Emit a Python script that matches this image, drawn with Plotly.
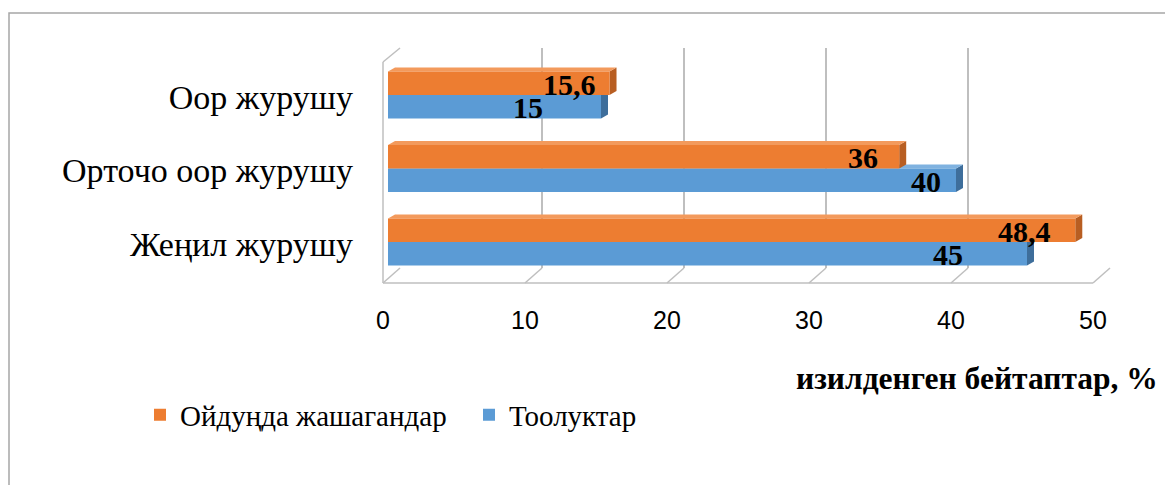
import plotly.graph_objects as go

# ---------------- data ----------------
categories = ["Жеңил журушу", "Орточо оор журушу", "Оор журушу"]  # bottom -> top
lowland = [48.4, 36, 15.6]      # Ойдуңда жашагандар
highland = [45, 40, 15]         # Тоолуктар
lowland_text = ["48,4", "36", "15,6"]
highland_text = ["45", "40", "15"]
x_ticks = [0, 10, 20, 30, 40, 50]
series_names = ["Ойдуңда жашагандар", "Тоолуктар"]
axis_title = "изилденген бейтаптар, %"

# ---------------- style / layout ----------------
OX, OY = 8, 8                      # page body margin
FW, FH = 1165, 477                 # figure size so that it ends at the window edge
ORANGE, ORANGE_SIDE, ORANGE_TOP = "#ED7D31", "#B85E22", "#F39A5C"
BLUE, BLUE_SIDE, BLUE_TOP = "#5B9BD5", "#3E6E9B", "#7FB2E0"
GRID = "#bfbfbf"
SERIF = "Liberation Serif, Times New Roman, serif"
SANS = "Liberation Sans, Arial, sans-serif"
# nudges of the value labels (px), as placed in the original
lowland_label_shift = [-22, -19, -12]
highland_label_shift = [-62, -13, -56]


def px_x(p):
    return (p - OX) / FW


def px_y(p):
    return 1 - (p - OY) / FH


XMAX = 50
BAR_L, BAR_R = 388, 1098           # bar axis pixel extent (window pixels)
FRONT_L, BACK_L = 383, 400         # floor front / back wall left edges
FLOOR_FRONT, FLOOR_BACK = 283, 268
WALL_TOP_FRONT, WALL_TOP_BACK = 62, 48
PLOT_TOP, PLOT_BOT = 58.25, 278.75
scale = (BAR_R - BAR_L) / XMAX
yidx = list(range(len(categories)))

fig = go.Figure()

# back wall gridlines live on subplot x/y (drawn first, under the bars)
fig.add_trace(go.Scatter(x=[], y=[], xaxis="x", yaxis="y", showlegend=False, hoverinfo="skip"))

fig.add_trace(go.Bar(
    y=yidx, x=highland, orientation="h", name=series_names[1],
    marker=dict(color=BLUE, line=dict(width=0)), xaxis="x2", yaxis="y2",
    hoverinfo="x+name"))
fig.add_trace(go.Bar(
    y=yidx, x=lowland, orientation="h", name=series_names[0],
    marker=dict(color=ORANGE, line=dict(width=0)), xaxis="x2", yaxis="y2",
    hoverinfo="x+name"))

shapes = []
# 3-D faces of the bars
ddx = 7 / scale
ddy = 4 / (PLOT_BOT - PLOT_TOP) * 3
half = 0.32
for vals, off, side, top in [(highland, -half, BLUE_SIDE, BLUE_TOP), (lowland, 0.0, ORANGE_SIDE, ORANGE_TOP)]:
    for i, v in zip(yidx, vals):
        y0 = i + off
        y1 = y0 + half
        shapes.append(dict(type="path", xref="x2", yref="y2", layer="below",
                           path=f"M {v},{y0} L {v+ddx},{y0+ddy} L {v+ddx},{y1+ddy} L {v},{y1} Z",
                           fillcolor=side, line=dict(width=0)))
        shapes.append(dict(type="path", xref="x2", yref="y2", layer="below",
                           path=f"M 0,{y1} L {ddx},{y1+ddy} L {v+ddx},{y1+ddy} L {v},{y1} Z",
                           fillcolor=top, line=dict(width=0)))

# floor and left wall
line = dict(color=GRID, width=1.5)
shapes.append(dict(type="line", xref="paper", yref="paper",
                   x0=px_x(FRONT_L), x1=px_x(FRONT_L + XMAX * scale),
                   y0=px_y(FLOOR_FRONT), y1=px_y(FLOOR_FRONT), line=line))
for k in x_ticks:
    shapes.append(dict(type="line", xref="paper", yref="paper",
                       x0=px_x(FRONT_L + k * scale), x1=px_x(BACK_L + k * scale),
                       y0=px_y(FLOOR_FRONT), y1=px_y(FLOOR_BACK), line=line))
shapes.append(dict(type="line", xref="paper", yref="paper",
                   x0=px_x(FRONT_L), x1=px_x(FRONT_L),
                   y0=px_y(FLOOR_FRONT), y1=px_y(WALL_TOP_FRONT), line=line))
shapes.append(dict(type="line", xref="paper", yref="paper",
                   x0=px_x(FRONT_L), x1=px_x(BACK_L),
                   y0=px_y(WALL_TOP_FRONT), y1=px_y(WALL_TOP_BACK), line=line))
# outer frame of the chart area
shapes.append(dict(type="rect", xref="paper", yref="paper",
                   x0=px_x(9), x1=1.2, y0=-0.2, y1=px_y(13),
                   line=dict(color="#a6a6a6", width=1.5), fillcolor="rgba(0,0,0,0)"))

annotations = []
for vals, texts, shifts, off in [(lowland, lowland_text, lowland_label_shift, half / 2),
                                 (highland, highland_text, highland_label_shift, -half / 2)]:
    for i, v, t, s in zip(yidx, vals, texts, shifts):
        annotations.append(dict(x=v, y=i + off, xref="x2", yref="y2", text=t,
                                showarrow=False, xanchor="right", yanchor="middle",
                                xshift=s, yshift=-1,
                                font=dict(family=SERIF, size=30, color="black", weight="bold")))
annotations.append(dict(x=px_x(1160), y=px_y(378), xref="paper", yref="paper",
                        text=axis_title, showarrow=False, xanchor="right", yanchor="middle",
                        font=dict(family=SERIF, size=31.5, color="black", weight="bold")))

fig.update_layout(
    width=FW, height=FH, autosize=False,
    margin=dict(l=0, r=0, t=0, b=0, autoexpand=False),
    paper_bgcolor="white", plot_bgcolor="rgba(0,0,0,0)",
    barmode="group", bargap=0.36, bargroupgap=0,
    showlegend=True,
    legend=dict(orientation="h", x=px_x(140), y=px_y(415), xanchor="left", yanchor="middle",
                traceorder="reversed", font=dict(family=SERIF, size=29, color="black"),
                entrywidth=284, itemwidth=30, bgcolor="rgba(0,0,0,0)"),
    xaxis=dict(domain=[px_x(BACK_L), px_x(BACK_L + XMAX * scale + 1)], range=[-0.02, XMAX + 0.05],
               anchor="y", tickvals=x_ticks, showticklabels=False, ticks="", automargin=False,
               showgrid=True, gridcolor=GRID, gridwidth=1.5, zeroline=False, showline=False,
               fixedrange=True),
    yaxis=dict(domain=[px_y(FLOOR_BACK), px_y(WALL_TOP_BACK)], range=[0, 1], anchor="x",
               visible=False, fixedrange=True, automargin=False),
    xaxis2=dict(domain=[px_x(BAR_L), px_x(BAR_R)], range=[0, XMAX], anchor="y2",
                tickvals=x_ticks, ticks="", showgrid=False, zeroline=False, showline=False,
                ticklabelshift=-5, ticklabelstandoff=24, automargin=False,
                tickfont=dict(family=SANS, size=25, color="black")),
    yaxis2=dict(domain=[px_y(PLOT_BOT), px_y(PLOT_TOP)], range=[-0.5, 2.5], anchor="x2",
                tickvals=yidx, ticktext=categories, ticks="", showgrid=False, automargin=False,
                zeroline=False, showline=False, ticklabelstandoff=34, ticklabelshift=2,
                tickfont=dict(family=SERIF, size=34, color="black")),
    shapes=shapes, annotations=annotations,
)

fig.write_html("out.html")
